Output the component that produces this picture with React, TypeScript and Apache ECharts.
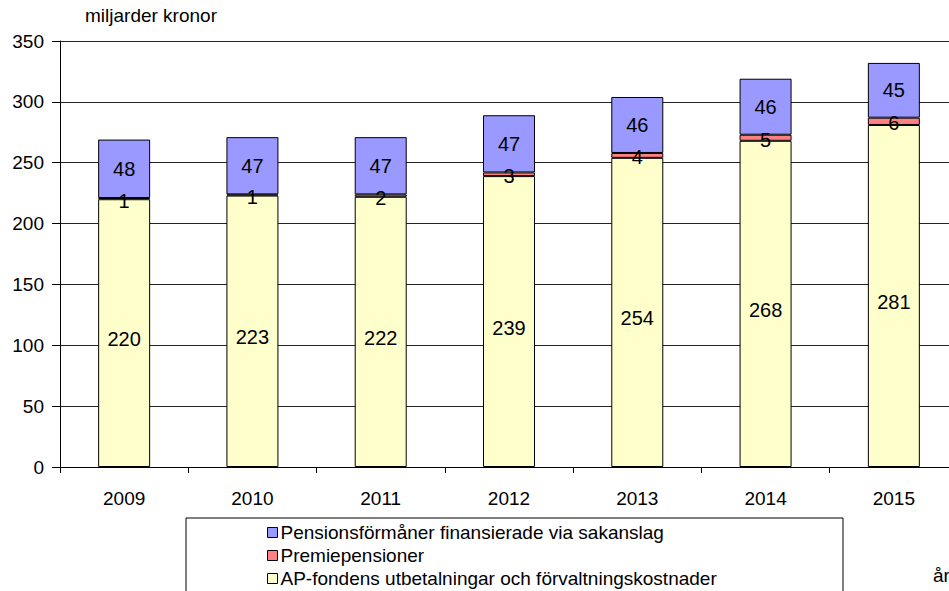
import React, { useEffect, useRef } from "react";
import * as echarts from "echarts";

const years = ["2009", "2010", "2011", "2012", "2013", "2014", "2015"];
const apFonden = [220, 223, 222, 239, 254, 268, 281];
const premie = [1, 1, 2, 3, 4, 5, 6];
const sakanslag = [48, 47, 47, 47, 46, 46, 45];
const seriesNames = [
  "AP-fondens utbetalningar och förvaltningskostnader",
  "Premiepensioner",
  "Pensionsförmåner finansierade via sakanslag",
];
const colors = ["#FFFFCC", "#FF8080", "#9999FF"];

const FONT = "'Liberation Sans', Arial, sans-serif";

export default function App() {
  const ref = useRef<HTMLDivElement>(null);
  useEffect(() => {
    document.body.style.margin = "0";
    const chart = echarts.init(ref.current!, null, { renderer: "svg" });
    const values = [apFonden, premie, sakanslag];
    const legendRows = [seriesNames[2], seriesNames[1], seriesNames[0]];
    chart.setOption({
      animation: false,
      textStyle: { fontFamily: FONT },
      grid: { left: 60, top: 41, width: 898, height: 426, containLabel: false },
      xAxis: {
        type: "category",
        data: years,
        axisLine: { lineStyle: { color: "#000", width: 1 } },
        axisTick: { show: true, length: 6, lineStyle: { color: "#000" } },
        axisLabel: { color: "#000", fontSize: 19, margin: 22, fontFamily: FONT },
        splitLine: { show: false },
      },
      yAxis: {
        type: "value",
        min: 0,
        max: 350,
        interval: 50,
        axisLine: { show: true, lineStyle: { color: "#000", width: 1 } },
        axisTick: { show: true, length: 8, lineStyle: { color: "#000" } },
        axisLabel: { color: "#000", fontSize: 19, margin: 16, fontFamily: FONT },
        splitLine: { show: true, lineStyle: { color: "#222", width: 1 } },
      },
      legend: legendRows.map((name, i) => ({
        orient: "vertical",
        left: 267,
        top: 523 + i * 23,
        padding: 0,
        itemWidth: 10,
        itemHeight: 10,
        itemGap: 0,
        icon: "rect",
        data: [name],
        textStyle: { fontSize: 19, color: "#000", fontFamily: FONT, padding: [0, 0, 0, -2] },
        itemStyle: { borderColor: "#000", borderWidth: 1 },
      })),
      graphic: [
        {
          type: "rect",
          shape: { x: 186, y: 518, width: 657, height: 90 },
          style: { fill: "none", stroke: "#000", lineWidth: 1 },
          silent: true,
        },
        {
          type: "text",
          x: 85,
          y: 6,
          style: { text: "miljarder kronor", fontSize: 19, fill: "#000", fontFamily: FONT },
        },
        {
          type: "text",
          x: 933,
          y: 566,
          style: { text: "år", fontSize: 19, fill: "#000", fontFamily: FONT },
        },
      ],
      series: seriesNames.map((name, i) => ({
        name,
        type: "bar",
        stack: "total",
        barWidth: 52,
        data: values[i],
        itemStyle: { color: colors[i], borderColor: "#000", borderWidth: 1 },
        label: {
          show: true,
          position: "inside",
          color: "#000",
          fontSize: 20,
          fontFamily: FONT,
          offset: i === 1 ? [0, 2] : i === 0 ? [0, 6] : [0, 0],
        },
      })),
    });
    return () => chart.dispose();
  }, []);
  return (
    <div style={{ width: 949, height: 591, overflow: "hidden" }}>
      <div ref={ref} style={{ width: 970, height: 591 }} />
    </div>
  );
}
